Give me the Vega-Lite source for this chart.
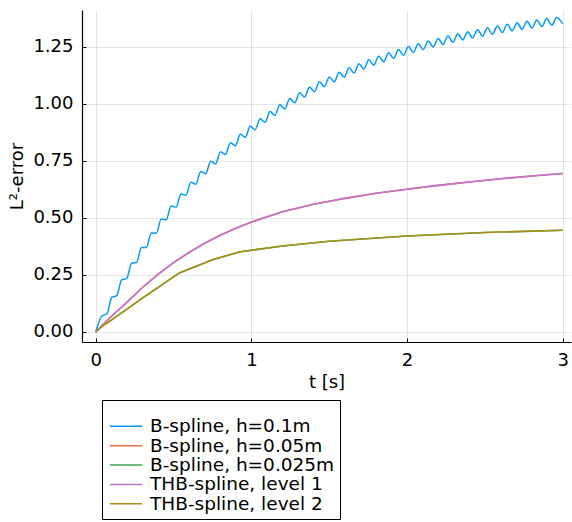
{
  "$schema": "https://vega.github.io/schema/vega-lite/v6.json",
  "width": 489,
  "height": 332,
  "autosize": {"type": "none"},
  "padding": {"left": 82, "top": 10, "right": 1, "bottom": 180},
  "background": "white",
  "config": {
    "font": "DejaVu Sans",
    "view": {"stroke": null},
    "axis": {
      "grid": true,
      "gridColor": "#000",
      "gridOpacity": 0.1,
      "gridWidth": 1,
      "domainColor": "#000",
      "domainWidth": 1.2,
      "tickColor": "#000",
      "tickSize": -4,
      "labelFontSize": 18,
      "labelColor": "#000",
      "titleFontSize": 18,
      "titleFontWeight": "normal",
      "titleColor": "#000"
    }
  },
  "data": {
    "values": [
      {"series": "B-spline, h=0.1m", "t": 0, "err": 0},
      {"series": "B-spline, h=0.1m", "t": 0.04, "err": 0.0702},
      {"series": "B-spline, h=0.1m", "t": 0.0718, "err": 0.0798},
      {"series": "B-spline, h=0.1m", "t": 0.1035, "err": 0.1521},
      {"series": "B-spline, h=0.1m", "t": 0.1353, "err": 0.1592},
      {"series": "B-spline, h=0.1m", "t": 0.167, "err": 0.2292},
      {"series": "B-spline, h=0.1m", "t": 0.1988, "err": 0.234},
      {"series": "B-spline, h=0.1m", "t": 0.2305, "err": 0.3018},
      {"series": "B-spline, h=0.1m", "t": 0.2623, "err": 0.3045},
      {"series": "B-spline, h=0.1m", "t": 0.294, "err": 0.3701},
      {"series": "B-spline, h=0.1m", "t": 0.3258, "err": 0.3707},
      {"series": "B-spline, h=0.1m", "t": 0.3575, "err": 0.4344},
      {"series": "B-spline, h=0.1m", "t": 0.3893, "err": 0.4331},
      {"series": "B-spline, h=0.1m", "t": 0.421, "err": 0.495},
      {"series": "B-spline, h=0.1m", "t": 0.4528, "err": 0.4919},
      {"series": "B-spline, h=0.1m", "t": 0.4845, "err": 0.5519},
      {"series": "B-spline, h=0.1m", "t": 0.5163, "err": 0.5472},
      {"series": "B-spline, h=0.1m", "t": 0.548, "err": 0.6056},
      {"series": "B-spline, h=0.1m", "t": 0.5798, "err": 0.5992},
      {"series": "B-spline, h=0.1m", "t": 0.6115, "err": 0.6561},
      {"series": "B-spline, h=0.1m", "t": 0.6433, "err": 0.6482},
      {"series": "B-spline, h=0.1m", "t": 0.675, "err": 0.7036},
      {"series": "B-spline, h=0.1m", "t": 0.7068, "err": 0.6943},
      {"series": "B-spline, h=0.1m", "t": 0.7385, "err": 0.7483},
      {"series": "B-spline, h=0.1m", "t": 0.7703, "err": 0.7377},
      {"series": "B-spline, h=0.1m", "t": 0.802, "err": 0.7904},
      {"series": "B-spline, h=0.1m", "t": 0.8338, "err": 0.7786},
      {"series": "B-spline, h=0.1m", "t": 0.8655, "err": 0.8301},
      {"series": "B-spline, h=0.1m", "t": 0.8973, "err": 0.817},
      {"series": "B-spline, h=0.1m", "t": 0.929, "err": 0.8674},
      {"series": "B-spline, h=0.1m", "t": 0.9608, "err": 0.8532},
      {"series": "B-spline, h=0.1m", "t": 0.9925, "err": 0.9025},
      {"series": "B-spline, h=0.1m", "t": 1.0243, "err": 0.8873},
      {"series": "B-spline, h=0.1m", "t": 1.056, "err": 0.9356},
      {"series": "B-spline, h=0.1m", "t": 1.0878, "err": 0.9194},
      {"series": "B-spline, h=0.1m", "t": 1.1195, "err": 0.9667},
      {"series": "B-spline, h=0.1m", "t": 1.1513, "err": 0.9496},
      {"series": "B-spline, h=0.1m", "t": 1.183, "err": 0.996},
      {"series": "B-spline, h=0.1m", "t": 1.2148, "err": 0.978},
      {"series": "B-spline, h=0.1m", "t": 1.2465, "err": 1.0236},
      {"series": "B-spline, h=0.1m", "t": 1.2783, "err": 1.0048},
      {"series": "B-spline, h=0.1m", "t": 1.31, "err": 1.0496},
      {"series": "B-spline, h=0.1m", "t": 1.3418, "err": 1.03},
      {"series": "B-spline, h=0.1m", "t": 1.3735, "err": 1.074},
      {"series": "B-spline, h=0.1m", "t": 1.4053, "err": 1.0537},
      {"series": "B-spline, h=0.1m", "t": 1.437, "err": 1.097},
      {"series": "B-spline, h=0.1m", "t": 1.4688, "err": 1.076},
      {"series": "B-spline, h=0.1m", "t": 1.5005, "err": 1.1187},
      {"series": "B-spline, h=0.1m", "t": 1.5323, "err": 1.097},
      {"series": "B-spline, h=0.1m", "t": 1.564, "err": 1.139},
      {"series": "B-spline, h=0.1m", "t": 1.5958, "err": 1.1168},
      {"series": "B-spline, h=0.1m", "t": 1.6275, "err": 1.1582},
      {"series": "B-spline, h=0.1m", "t": 1.6593, "err": 1.1354},
      {"series": "B-spline, h=0.1m", "t": 1.691, "err": 1.1763},
      {"series": "B-spline, h=0.1m", "t": 1.7228, "err": 1.1529},
      {"series": "B-spline, h=0.1m", "t": 1.7545, "err": 1.1933},
      {"series": "B-spline, h=0.1m", "t": 1.7863, "err": 1.1694},
      {"series": "B-spline, h=0.1m", "t": 1.818, "err": 1.2093},
      {"series": "B-spline, h=0.1m", "t": 1.8498, "err": 1.1849},
      {"series": "B-spline, h=0.1m", "t": 1.8815, "err": 1.2244},
      {"series": "B-spline, h=0.1m", "t": 1.9133, "err": 1.1996},
      {"series": "B-spline, h=0.1m", "t": 1.945, "err": 1.2385},
      {"series": "B-spline, h=0.1m", "t": 1.9768, "err": 1.2133},
      {"series": "B-spline, h=0.1m", "t": 2.0085, "err": 1.2519},
      {"series": "B-spline, h=0.1m", "t": 2.0403, "err": 1.2263},
      {"series": "B-spline, h=0.1m", "t": 2.072, "err": 1.2645},
      {"series": "B-spline, h=0.1m", "t": 2.1038, "err": 1.2385},
      {"series": "B-spline, h=0.1m", "t": 2.1355, "err": 1.2763},
      {"series": "B-spline, h=0.1m", "t": 2.1673, "err": 1.2499},
      {"series": "B-spline, h=0.1m", "t": 2.199, "err": 1.2874},
      {"series": "B-spline, h=0.1m", "t": 2.2308, "err": 1.2607},
      {"series": "B-spline, h=0.1m", "t": 2.2625, "err": 1.2979},
      {"series": "B-spline, h=0.1m", "t": 2.2943, "err": 1.2709},
      {"series": "B-spline, h=0.1m", "t": 2.326, "err": 1.3078},
      {"series": "B-spline, h=0.1m", "t": 2.3578, "err": 1.2805},
      {"series": "B-spline, h=0.1m", "t": 2.3895, "err": 1.317},
      {"series": "B-spline, h=0.1m", "t": 2.4213, "err": 1.2895},
      {"series": "B-spline, h=0.1m", "t": 2.453, "err": 1.3258},
      {"series": "B-spline, h=0.1m", "t": 2.4848, "err": 1.298},
      {"series": "B-spline, h=0.1m", "t": 2.5165, "err": 1.334},
      {"series": "B-spline, h=0.1m", "t": 2.5483, "err": 1.3059},
      {"series": "B-spline, h=0.1m", "t": 2.58, "err": 1.3418},
      {"series": "B-spline, h=0.1m", "t": 2.6118, "err": 1.3135},
      {"series": "B-spline, h=0.1m", "t": 2.6435, "err": 1.349},
      {"series": "B-spline, h=0.1m", "t": 2.6753, "err": 1.3205},
      {"series": "B-spline, h=0.1m", "t": 2.707, "err": 1.3559},
      {"series": "B-spline, h=0.1m", "t": 2.7388, "err": 1.3272},
      {"series": "B-spline, h=0.1m", "t": 2.7705, "err": 1.3624},
      {"series": "B-spline, h=0.1m", "t": 2.8023, "err": 1.3334},
      {"series": "B-spline, h=0.1m", "t": 2.834, "err": 1.3684},
      {"series": "B-spline, h=0.1m", "t": 2.8658, "err": 1.3393},
      {"series": "B-spline, h=0.1m", "t": 2.8975, "err": 1.3742},
      {"series": "B-spline, h=0.1m", "t": 2.9293, "err": 1.3449},
      {"series": "B-spline, h=0.1m", "t": 2.961, "err": 1.3796},
      {"series": "B-spline, h=0.1m", "t": 3.0, "err": 1.352},

      {"series": "B-spline, h=0.05m", "t": 0, "err": 0},
      {"series": "B-spline, h=0.05m", "t": 0.05, "err": 0.035},
      {"series": "B-spline, h=0.05m", "t": 0.1, "err": 0.068},
      {"series": "B-spline, h=0.05m", "t": 0.2, "err": 0.13},
      {"series": "B-spline, h=0.05m", "t": 0.3, "err": 0.195},
      {"series": "B-spline, h=0.05m", "t": 0.4, "err": 0.253},
      {"series": "B-spline, h=0.05m", "t": 0.5, "err": 0.304},
      {"series": "B-spline, h=0.05m", "t": 0.6, "err": 0.349},
      {"series": "B-spline, h=0.05m", "t": 0.7, "err": 0.389},
      {"series": "B-spline, h=0.05m", "t": 0.8, "err": 0.424},
      {"series": "B-spline, h=0.05m", "t": 0.9, "err": 0.455},
      {"series": "B-spline, h=0.05m", "t": 1.0, "err": 0.482},
      {"series": "B-spline, h=0.05m", "t": 1.2, "err": 0.527},
      {"series": "B-spline, h=0.05m", "t": 1.4, "err": 0.56},
      {"series": "B-spline, h=0.05m", "t": 1.6, "err": 0.586},
      {"series": "B-spline, h=0.05m", "t": 1.8, "err": 0.608},
      {"series": "B-spline, h=0.05m", "t": 2.0, "err": 0.626},
      {"series": "B-spline, h=0.05m", "t": 2.2, "err": 0.643},
      {"series": "B-spline, h=0.05m", "t": 2.4, "err": 0.658},
      {"series": "B-spline, h=0.05m", "t": 2.6, "err": 0.672},
      {"series": "B-spline, h=0.05m", "t": 2.8, "err": 0.684},
      {"series": "B-spline, h=0.05m", "t": 3.0, "err": 0.695},

      {"series": "B-spline, h=0.025m", "t": 0, "err": 0},
      {"series": "B-spline, h=0.025m", "t": 0.03, "err": 0.019},
      {"series": "B-spline, h=0.025m", "t": 0.06, "err": 0.034},
      {"series": "B-spline, h=0.025m", "t": 0.1, "err": 0.052},
      {"series": "B-spline, h=0.025m", "t": 0.3, "err": 0.148},
      {"series": "B-spline, h=0.025m", "t": 0.54, "err": 0.26},
      {"series": "B-spline, h=0.025m", "t": 0.755, "err": 0.318},
      {"series": "B-spline, h=0.025m", "t": 0.93, "err": 0.352},
      {"series": "B-spline, h=0.025m", "t": 1.2, "err": 0.377},
      {"series": "B-spline, h=0.025m", "t": 1.5, "err": 0.398},
      {"series": "B-spline, h=0.025m", "t": 2.0, "err": 0.421},
      {"series": "B-spline, h=0.025m", "t": 2.5, "err": 0.436},
      {"series": "B-spline, h=0.025m", "t": 3.0, "err": 0.446},

      {"series": "THB-spline, level 1", "t": 0, "err": 0},
      {"series": "THB-spline, level 1", "t": 0.05, "err": 0.035},
      {"series": "THB-spline, level 1", "t": 0.1, "err": 0.068},
      {"series": "THB-spline, level 1", "t": 0.2, "err": 0.13},
      {"series": "THB-spline, level 1", "t": 0.3, "err": 0.195},
      {"series": "THB-spline, level 1", "t": 0.4, "err": 0.253},
      {"series": "THB-spline, level 1", "t": 0.5, "err": 0.304},
      {"series": "THB-spline, level 1", "t": 0.6, "err": 0.349},
      {"series": "THB-spline, level 1", "t": 0.7, "err": 0.389},
      {"series": "THB-spline, level 1", "t": 0.8, "err": 0.424},
      {"series": "THB-spline, level 1", "t": 0.9, "err": 0.455},
      {"series": "THB-spline, level 1", "t": 1.0, "err": 0.482},
      {"series": "THB-spline, level 1", "t": 1.2, "err": 0.527},
      {"series": "THB-spline, level 1", "t": 1.4, "err": 0.56},
      {"series": "THB-spline, level 1", "t": 1.6, "err": 0.586},
      {"series": "THB-spline, level 1", "t": 1.8, "err": 0.608},
      {"series": "THB-spline, level 1", "t": 2.0, "err": 0.626},
      {"series": "THB-spline, level 1", "t": 2.2, "err": 0.643},
      {"series": "THB-spline, level 1", "t": 2.4, "err": 0.658},
      {"series": "THB-spline, level 1", "t": 2.6, "err": 0.672},
      {"series": "THB-spline, level 1", "t": 2.8, "err": 0.684},
      {"series": "THB-spline, level 1", "t": 3.0, "err": 0.695},

      {"series": "THB-spline, level 2", "t": 0, "err": 0},
      {"series": "THB-spline, level 2", "t": 0.03, "err": 0.019},
      {"series": "THB-spline, level 2", "t": 0.06, "err": 0.034},
      {"series": "THB-spline, level 2", "t": 0.1, "err": 0.052},
      {"series": "THB-spline, level 2", "t": 0.3, "err": 0.148},
      {"series": "THB-spline, level 2", "t": 0.54, "err": 0.26},
      {"series": "THB-spline, level 2", "t": 0.755, "err": 0.318},
      {"series": "THB-spline, level 2", "t": 0.93, "err": 0.352},
      {"series": "THB-spline, level 2", "t": 1.2, "err": 0.377},
      {"series": "THB-spline, level 2", "t": 1.5, "err": 0.398},
      {"series": "THB-spline, level 2", "t": 2.0, "err": 0.421},
      {"series": "THB-spline, level 2", "t": 2.5, "err": 0.436},
      {"series": "THB-spline, level 2", "t": 3.0, "err": 0.446}
    ]
  },
  "encoding": {
    "x": {
      "field": "t",
      "type": "quantitative",
      "scale": {"domain": [-0.088, 3.053], "nice": false, "zero": false},
      "axis": {"title": "t [s]", "values": [0, 1, 2, 3], "format": "d", "labelPadding": 13, "titlePadding": 4}
    },
    "y": {
      "field": "err",
      "type": "quantitative",
      "scale": {"domain": [-0.044, 1.412], "nice": false, "zero": false},
      "axis": {"title": "L²-error", "values": [0, 0.25, 0.5, 0.75, 1, 1.25], "format": ".2f", "labelPadding": 13, "titlePadding": 6}
    },
    "color": {
      "field": "series",
      "type": "nominal",
      "scale": {
        "domain": ["B-spline, h=0.1m", "B-spline, h=0.05m", "B-spline, h=0.025m", "THB-spline, level 1", "THB-spline, level 2"],
        "range": ["#009AFA", "#E36F47", "#3EA44E", "#C371D2", "#AC8E18"]
      },
      "legend": {
        "title": " ",
        "titleFontSize": 8,
        "titlePadding": 4,
        "orient": "none",
        "legendX": 20,
        "legendY": 390,
        "strokeColor": "#000",
        "fillColor": "#fff",
        "padding": 5,
        "symbolType": "M-1,0H4",
        "symbolSize": 169,
        "symbolStrokeWidth": 1.5,
        "labelFontSize": 18.5,
        "labelColor": "#000",
        "labelOffset": 24.5,
        "labelLimit": 0,
        "rowPadding": 0.4
      }
    }
  },
  "layer": [
    {
      "transform": [{"filter": "datum.series === 'B-spline, h=0.1m'"}],
      "mark": {"type": "line", "interpolate": "monotone", "strokeWidth": 1.5, "clip": true}
    },
    {
      "transform": [{"filter": "datum.series !== 'B-spline, h=0.1m'"}],
      "mark": {"type": "line", "interpolate": "linear", "strokeWidth": 1.6, "clip": true}
    }
  ]
}
